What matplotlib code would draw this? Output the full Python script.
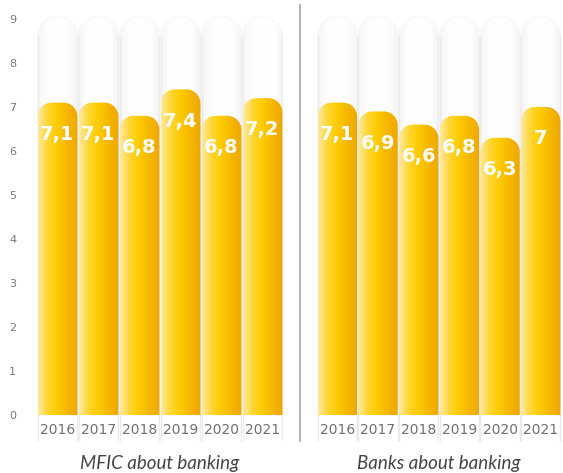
import numpy as np
import matplotlib.pyplot as plt
from matplotlib.path import Path
from matplotlib.patches import PathPatch
from matplotlib.colors import LinearSegmentedColormap
from matplotlib.lines import Line2D

# Данные
years = ['2016', '2017', '2018', '2019', '2020', '2021']
mfic_scores = [7.1, 7.1, 6.8, 7.4, 6.8, 7.2]
bank_scores = [7.1, 6.9, 6.6, 6.8, 6.3, 7.0]
panel_titles = ['MFIC about banking', 'Banks about banking']
y_max = 9

W, H = 563, 473
fig = plt.figure(figsize=(W / 100, H / 100), dpi=100)

bar_cmap = LinearSegmentedColormap.from_list(
    'gold', ['#fee9a4', '#ffd630', '#fdca00', '#f5b500', '#efa700'])
back_cmap = LinearSegmentedColormap.from_list(
    'back', ['#f5f5f5', '#fdfdfd', '#ffffff', '#ffffff', '#fdfdfd', '#f4f4f4'])


def top_rounded(x0, x1, top, rx, ry):
    # прямоугольник со скруглёнными верхними углами
    k = 0.5523
    verts = [(x0, 0), (x0, top - ry),
             (x0, top - ry + k * ry), (x0 + rx - k * rx, top), (x0 + rx, top),
             (x1 - rx, top),
             (x1 - rx + k * rx, top), (x1, top - ry + k * ry), (x1, top - ry),
             (x1, 0), (x0, 0)]
    codes = [Path.MOVETO, Path.LINETO,
             Path.CURVE4, Path.CURVE4, Path.CURVE4,
             Path.LINETO,
             Path.CURVE4, Path.CURVE4, Path.CURVE4,
             Path.LINETO, Path.CLOSEPOLY]
    return Path(verts, codes)


def draw_panel(ax, values, title, show_ticks):
    ax.set_xlim(-0.5, 5.5)
    ax.set_ylim(-0.62, 9.15)
    w = 0.97
    # px на единицу по осям
    px_x = ax.get_position().width * W / 6
    px_y = ax.get_position().height * H / (9.15 + 0.62)
    grad = np.linspace(0, 1, 256).reshape(1, -1)
    for i, v in enumerate(values):
        x0, x1 = i - w / 2, i + w / 2
        # светлая подложка до максимума шкалы
        ry_b = 19 / px_y
        bp = PathPatch(top_rounded(x0, x1, y_max + 0.05, 19 / px_x, ry_b),
                       fc='none', ec='none')
        ax.add_patch(bp)
        im = ax.imshow(grad, cmap=back_cmap, extent=(x0, x1, 0, y_max + 0.05),
                       aspect='auto', zorder=1)
        im.set_clip_path(bp)
        ax.add_patch(PathPatch(top_rounded(x0, x1, y_max + 0.05, 19 / px_x, ry_b),
                               fc='none', ec='#f7f7f7', lw=0.8, zorder=1))
        # боковые линии ячеек
        for xe in (x0, x1):
            ax.plot([xe, xe], [-0.6, y_max + 0.05 - ry_b], color='#eaeaea',
                    lw=0.9, zorder=1, solid_capstyle='butt')
        ax.text(i, -0.34, years[i], ha='center', va='center', fontsize=10,
                family='DejaVu Sans', color='#6f6f6f', zorder=3)
        # столбец
        p = PathPatch(top_rounded(x0, x1, v, 14 / px_x, 14 / px_y),
                      fc='none', ec='none')
        ax.add_patch(p)
        im2 = ax.imshow(grad, cmap=bar_cmap, extent=(x0, x1, 0, v),
                        aspect='auto', zorder=2)
        im2.set_clip_path(p)
        label = f'{v:g}'.replace('.', ',')
        ax.text(i, v - 0.72, label, ha='center', va='center', fontsize=14,
                family='DejaVu Sans', fontweight='bold', color='white', zorder=4)
    ax.set_yticks(range(0, 10))
    ax.set_xticks([])
    for s in ax.spines.values():
        s.set_visible(False)
    ax.tick_params(axis='y', length=0, pad=15, labelsize=8, labelcolor='#777777')
    if not show_ticks:
        ax.set_yticklabels([])
    ax.text(2.5, -1.1, title, ha='center', va='center', fontsize=13.5,
            family='Lato', style='italic', color='#444444', clip_on=False)


bottom = 1 - 442.3 / H
height = (442.3 - 12.4) / H
ax1 = fig.add_axes([37 / W, bottom, 246 / W, height])
ax2 = fig.add_axes([317 / W, bottom, 244 / W, height])

draw_panel(ax1, mfic_scores, panel_titles[0], True)
draw_panel(ax2, bank_scores, panel_titles[1], False)

# разделитель между панелями
fig.add_artist(Line2D([300 / W, 300 / W], [1 - 5 / H, 1 - 441 / H],
                      color='#aaaaaa', lw=1.3))

fig.savefig('out.png', dpi=100)
